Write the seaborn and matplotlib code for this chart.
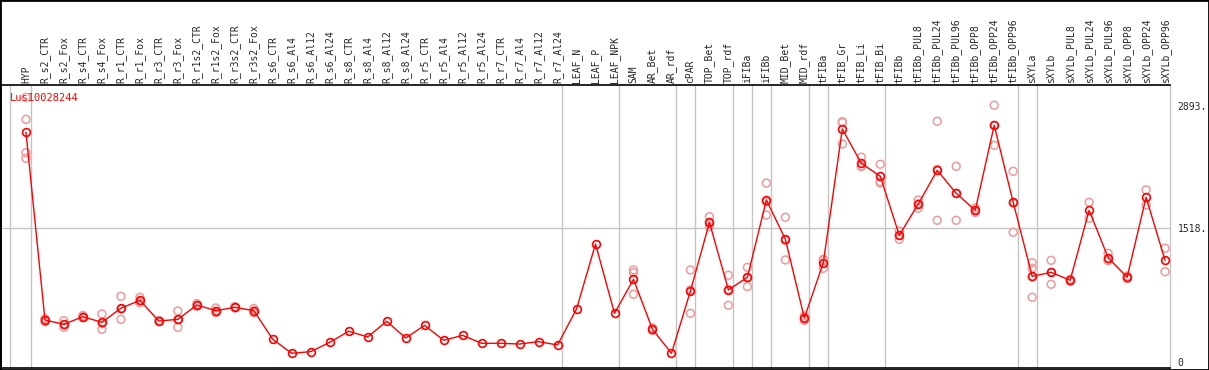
import numpy as np
import pandas as pd
import matplotlib
matplotlib.use("Agg")
import matplotlib.pyplot as plt
from matplotlib.patches import Rectangle
import seaborn as sns

# sample names, in the order on the x axis
categories = [
    "HYP",
    "R_s2_CTR", "R_s2_Fox", "R_s4_CTR", "R_s4_Fox", "R_r1_CTR", "R_r1_Fox",
    "R_r3_CTR", "R_r3_Fox", "R_r1s2_CTR", "R_r1s2_Fox", "R_r3s2_CTR", "R_r3s2_Fox",
    "R_s6_CTR", "R_s6_Al4", "R_s6_Al12", "R_s6_Al24", "R_s8_CTR", "R_s8_Al4",
    "R_s8_Al12", "R_s8_Al24", "R_r5_CTR", "R_r5_Al4", "R_r5_Al12", "R_r5_Al24",
    "R_r7_CTR", "R_r7_Al4", "R_r7_Al12", "R_r7_Al24",
    "LEAF_N", "LEAF_P", "LEAF_NPK",
    "SAM", "AR_Bet", "AR_rdf",
    "cPAR",
    "TOP_Bet", "TOP_rdf",
    "iFIBa",
    "iFIBb",
    "MID_Bet", "MID_rdf",
    "tFIBa",
    "tFIB_Gr", "tFIB_Li", "tFIB_Bi",
    "tFIBb", "tFIBb_PUL8", "tFIBb_PUL24", "tFIBb_PUL96", "tFIBb_OPP8",
    "tFIBb_OPP24", "tFIBb_OPP96",
    "sXYLa",
    "sXYLb", "sXYLb_PUL8", "sXYLb_PUL24", "sXYLb_PUL96", "sXYLb_OPP8",
    "sXYLb_OPP24", "sXYLb_OPP96",
]

# number of samples in each tissue group (grey separators)
group_sizes = [1, 28, 3, 3, 1, 2, 1, 1, 2, 1, 3, 7, 1, 7]

# mean expression per sample
means = [
    2596,
    474, 426, 512, 448, 607, 697, 463, 482, 644, 580, 618, 580,
    256, 98, 117, 222, 347, 283, 460, 271, 414, 245, 301, 211,
    211, 203, 230, 192,
    599, 1333, 550,
    934, 369, 98,
    802,
    1578, 814,
    957,
    1831,
    1387, 497,
    1122,
    2633, 2245, 2098,
    1432, 1785, 2166, 1906, 1714, 2675, 1805,
    968,
    1013, 923, 1714, 1179, 957, 1861, 1149,
]

# individual replicates per sample
replicates = [
    [2991, 2742, 2365, 2302],
    [490, 455, 478], [467, 392, 420], [525, 500, 511], [542, 369, 433],
    [742, 482, 597], [731, 670, 690], [470, 456, 463], [576, 392, 478],
    [660, 630, 642], [610, 555, 575], [625, 610, 619], [605, 555, 580],
    [], [], [], [], [], [], [], [], [], [], [], [],
    [], [], [], [],
    [], [], [],
    [1040, 1009, 765], [385, 355, 367], [],
    [1040, 550, 815],
    [1642, 1529, 1563], [980, 641, 820],
    [1070, 851, 950],
    [2022, 1661, 1810],
    [1635, 1153, 1373], [520, 470, 500],
    [1160, 1059, 1147],
    [2716, 2463, 2705], [2313, 2215, 2207], [2234, 2037, 2023],
    [1480, 1386, 1430], [1831, 1737, 1787], [2720, 1601, 2177],
    [2211, 1601, 1906], [1740, 1690, 1712], [2901, 2449, 2675],
    [2155, 1466, 1794],
    [1122, 1059, 731, 960],
    [1149, 878, 1012], [935, 910], [1805, 1624], [1228, 1145, 1164],
    [970, 940], [1944, 1774], [1285, 1020],
]

ytick_values = [0, 1518, 2893]
ytick_labels = ["0", "1518.", "2893."]
gene_id = "Lus10028244"

idx = np.arange(len(categories))
mean_df = pd.DataFrame({"x": idx, "value": means})
rep_df = pd.DataFrame(
    [(i, v) for i, reps in enumerate(replicates) for v in reps],
    columns=["x", "value"],
)

sns.set_style("white")
plt.rcParams["font.family"] = ["DejaVu Sans Mono"]

W, H = 1209, 370
fig = plt.figure(figsize=(W / 100, H / 100), dpi=100)
ax = fig.add_axes([1 / W, 2 / H, 1169 / W, 283 / H])

grid_col = "#c4c4c4"
# group separators
ends = np.cumsum(group_sizes) - 1
ax.axvline(-0.84, color=grid_col, lw=1, zorder=0)
for e in ends:
    ax.axvline(e + 0.24, color=grid_col, lw=1, zorder=0, clip_on=False)
ax.axhline(1518, color=grid_col, lw=1, zorder=0)

sns.scatterplot(data=rep_df, x="x", y="value", ax=ax, marker="o",
                facecolor="none", edgecolor="#ee9a9a", linewidth=1.1,
                s=32, zorder=2, legend=False)
sns.lineplot(data=mean_df, x="x", y="value", ax=ax, sort=False,
             color="#ff0000", lw=1, marker="o", markersize=5.6,
             markerfacecolor="none", markeredgecolor="#ff0000",
             markeredgewidth=1.2, zorder=3)

ax.set_xlim(-1.316, 60.26)
ax.set_ylim(-68, 3130)

ax.xaxis.tick_top()
ax.set_xticks(idx)
ax.set_xticklabels(categories, rotation=90, fontsize=7)
ax.tick_params(axis="x", length=0, pad=1.5)

ax.yaxis.tick_right()
ax.set_yticks(ytick_values)
ax.set_yticklabels(ytick_labels, fontsize=7)
ax.tick_params(axis="y", length=0, pad=5.5)

ax.set_xlabel("")
ax.set_ylabel("")

for s in ["top", "bottom", "left"]:
    ax.spines[s].set_color("black")
    ax.spines[s].set_linewidth(1.2)
ax.spines["right"].set_visible(False)

ax.text(0.0075, 0.954, gene_id, transform=ax.transAxes, color="#ff0000",
        fontsize=7.5, va="center", ha="left")

fig.patches.append(Rectangle((0, 0), 1, 1, transform=fig.transFigure,
                             fill=False, edgecolor="black", lw=2))

fig.savefig("out.png", dpi=100)
